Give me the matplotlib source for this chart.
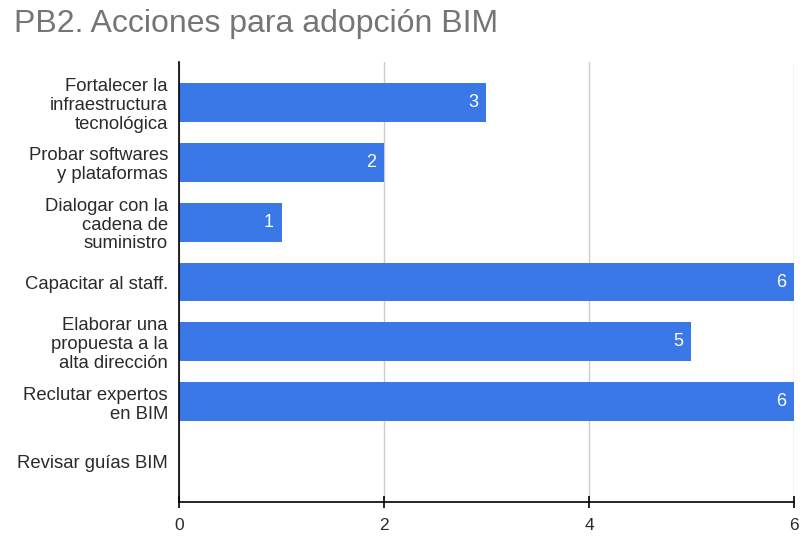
import matplotlib.pyplot as plt

plt.rcParams['font.family'] = ['Liberation Sans', 'DejaVu Sans']

categories = [
    'Fortalecer la\ninfraestructura\ntecnológica',
    'Probar softwares\ny plataformas',
    'Dialogar con la\ncadena de\nsuministro',
    'Capacitar al staff.',
    'Elaborar una\npropuesta a la\nalta dirección',
    'Reclutar expertos\nen BIM',
    'Revisar guías BIM',
]
values = [3, 2, 1, 6, 5, 6, 0]
xticks = [0, 2, 4, 6]

fig = plt.figure(figsize=(8.02, 5.37), dpi=100)
ax = fig.add_axes([0.2232, 0.0652, 0.7668, 0.8193])

pos = list(range(len(categories)))
ax.barh(pos, values, height=0.65, color='#3b78e7', zorder=3)
for p, v in zip(pos, values):
    if v > 0:
        ax.text(v - 0.08, p, str(v), color='white', fontsize=13,
                ha='right', va='center', zorder=4)

ax.set_xlim(0, 6)
ax.set_ylim(6.67, -0.67)
ax.set_yticks(pos)
ax.set_yticklabels(categories, fontsize=13.3, color='#2a2a2a', linespacing=1.15)
ax.tick_params(axis='y', length=0, pad=8)
ax.set_xticks(xticks)
ax.set_xticklabels([str(t) for t in xticks], fontsize=12.5, color='#2a2a2a')
ax.tick_params(axis='x', direction='inout', length=9, width=1.2, pad=7)

ax.grid(axis='x', color='#cccccc', linewidth=1, zorder=0)
for s in ['top', 'right']:
    ax.spines[s].set_visible(False)
ax.spines['left'].set_linewidth(1.2)
ax.spines['bottom'].set_linewidth(1.2)
ax.spines['left'].set_zorder(5)

fig.text(0.017, 0.955, 'PB2. Acciones para adopción BIM', fontsize=23,
         color='#757575', ha='left', va='center')

fig.savefig('out.png', dpi=100)
